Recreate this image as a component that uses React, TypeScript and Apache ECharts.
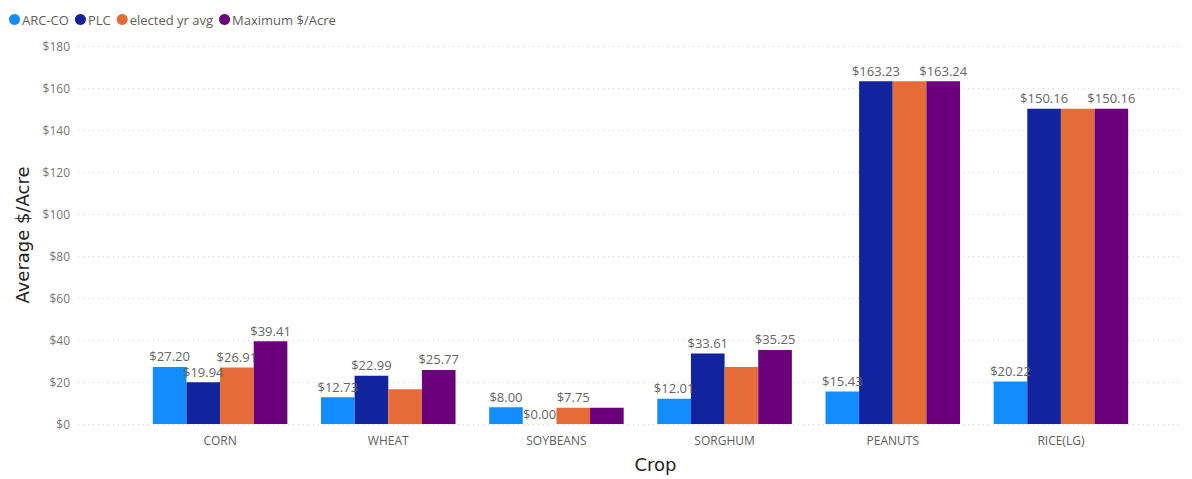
import React, { useEffect, useRef } from "react";
import * as echarts from "echarts";

const crops = ["CORN", "WHEAT", "SOYBEANS", "SORGHUM", "PEANUTS", "RICE(LG)"];
const arcCo = [27.2, 12.73, 8.0, 12.01, 15.43, 20.22];
const plc = [19.94, 22.99, 0.0, 33.61, 163.23, 150.16];
const electedAvg = [26.91, 16.6, 7.75, 27.2, 163.2, 150.16];
const maxPerAcre = [39.41, 25.77, 7.75, 35.25, 163.24, 150.16];
// which data labels are visible in the reference (others hidden by overlap)
const showArc = [true, true, true, true, true, true];
const showPlc = [true, true, true, true, true, true];
const showElected = [true, false, true, false, false, false];
const showMax = [true, true, false, true, true, true];
const yTicks = [0, 20, 40, 60, 80, 100, 120, 140, 160, 180];

const colors = ["#118DFF", "#12239E", "#E66C37", "#6B007B"];
const font = "'Open Sans', 'Noto Sans', sans-serif";

export default function App() {
  const ref = useRef<HTMLDivElement>(null);
  useEffect(() => {
    if (!ref.current) return;
    const chart = echarts.init(ref.current, undefined, { renderer: "svg" });
    const mk = (name: string, data: number[], show: boolean[], color: string) => ({
      name,
      type: "bar",
      xAxisIndex: 1,
      yAxisIndex: 1,
      barGap: "0%",
      barCategoryGap: "20%",
      itemStyle: { color },
      data: data.map((v, i) => ({
        value: v,
        label: {
          show: show[i],
          position: "top",
          distance: 4,
          color: "#666666",
          fontSize: 13,
          fontFamily: font,
          formatter: (p: any) => "$" + Number(p.value).toFixed(2),
        },
      })),
    });
    chart.setOption({
      animation: false,
      legend: {
        left: -4,
        top: 0,
        icon: "circle",
        itemWidth: 11,
        itemHeight: 11,
        itemGap: 6,
        textStyle: { color: "#605E5C", fontSize: 13, fontFamily: font, padding: [0, 0, 0, -3] },
        data: ["ARC-CO", "PLC", "elected yr avg", "Maximum $/Acre"],
      },
      grid: [
        { left: 70, right: 4, top: 38, bottom: 55, containLabel: false, outerBoundsMode: "none" },
        { left: 128, right: 39, top: 38, bottom: 55, containLabel: false, outerBoundsMode: "none" },
      ],
      xAxis: [
        {
          gridIndex: 0,
          type: "value",
          show: false,
          min: 0,
          max: 1,
          splitLine: { show: false },
        },
        {
          gridIndex: 1,
          type: "category",
          data: crops,
          name: "Crop",
          nameLocation: "middle",
          nameGap: 31,
          nameTextStyle: {
            color: "#252423",
            fontSize: 18,
            fontFamily: "'DejaVu Sans', sans-serif",
            padding: [0, 0, 0, 30],
          },
          axisLine: { show: false },
          axisTick: { show: false },
          axisLabel: { color: "#605E5C", fontSize: 12, fontFamily: font, margin: 10 },
        },
      ],
      yAxis: [
        {
          gridIndex: 0,
          type: "value",
          min: 0,
          max: 180,
          interval: 20,
          name: "Average $/Acre",
          nameLocation: "middle",
          nameGap: 44,
          nameTextStyle: { color: "#252423", fontSize: 18, fontFamily: "'DejaVu Sans', sans-serif" },
          axisLabel: {
            color: "#777777",
            fontSize: 12,
            fontFamily: font,
            margin: 8,
            formatter: (v: number) => (yTicks.includes(v) ? "$" + v : ""),
          },
          splitLine: { show: true, lineStyle: { color: "#d6d6d6", type: [1, 4], width: 1 } },
          axisLine: { show: false },
          axisTick: { show: false },
        },
        {
          gridIndex: 1,
          type: "value",
          min: 0,
          max: 180,
          interval: 20,
          show: false,
          splitLine: { show: false },
        },
      ],
      series: [
        mk("ARC-CO", arcCo, showArc, colors[0]),
        mk("PLC", plc, showPlc, colors[1]),
        mk("elected yr avg", electedAvg, showElected, colors[2]),
        mk("Maximum $/Acre", maxPerAcre, showMax, colors[3]),
      ],
    });
    return () => chart.dispose();
  }, []);
  return <div ref={ref} style={{ width: 1176, height: 471 }} />;
}
